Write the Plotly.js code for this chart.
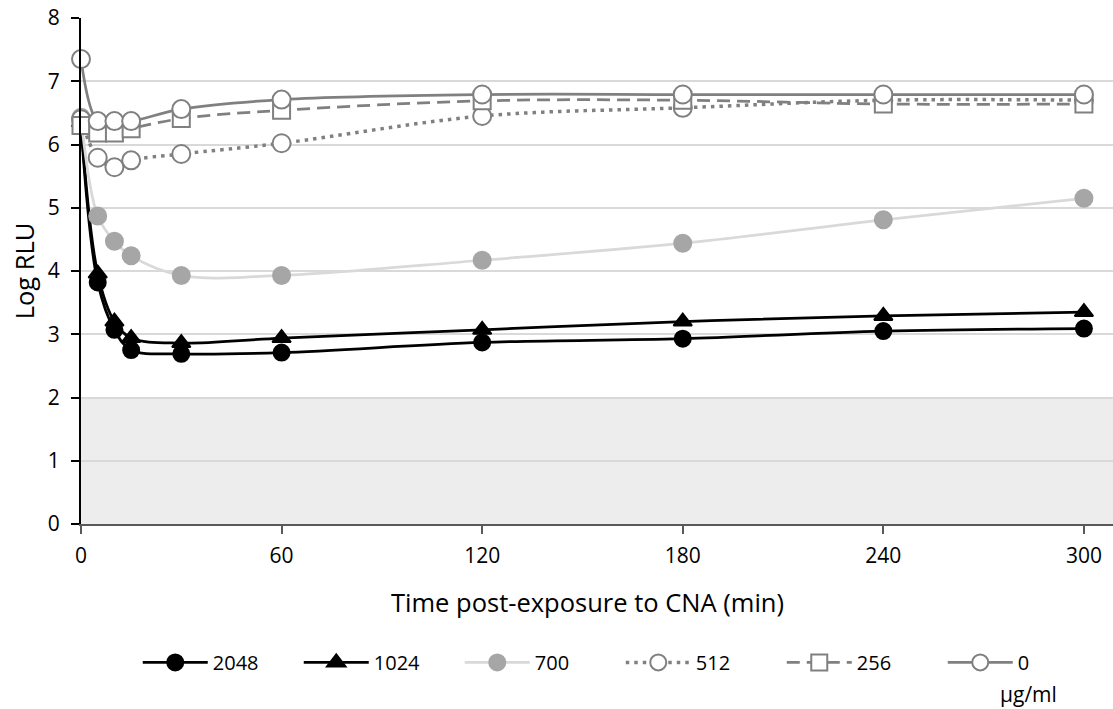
<!DOCTYPE html>
<html>
<head>
<meta charset="utf-8">
<script src="https://cdn.plot.ly/plotly-3.0.1.min.js"></script>
<style>html,body{margin:0;padding:0;background:#fff;}#chart{width:1113px;height:709px;}</style>
</head>
<body>
<div id="chart"></div>
<script>
const times = [0, 5, 10, 15, 30, 60, 120, 180, 240, 300];
const seriesNames = ["2048", "1024", "700", "512", "256", "0"];
const conc2048 = [6.3, 3.82, 3.07, 2.75, 2.69, 2.71, 2.87, 2.93, 3.05, 3.09];
const conc1024 = [6.35, 3.96, 3.2, 2.94, 2.86, 2.94, 3.07, 3.2, 3.29, 3.35];
const conc700  = [6.43, 4.87, 4.47, 4.24, 3.93, 3.93, 4.17, 4.44, 4.81, 5.15];
const conc512  = [6.4, 5.79, 5.64, 5.75, 5.85, 6.02, 6.45, 6.58, 6.7, 6.7];
const conc256  = [6.3, 6.18, 6.18, 6.25, 6.41, 6.54, 6.69, 6.7, 6.64, 6.64];
const conc0    = [7.35, 6.37, 6.37, 6.37, 6.56, 6.71, 6.79, 6.79, 6.79, 6.79];
const xTicks = [0, 60, 120, 180, 240, 300];
const yTicks = [0, 1, 2, 3, 4, 5, 6, 7, 8];
const unitLabel = "μg/ml";

const FONT = "'Open Sans', sans-serif";
const grey = "#808080";

function mk(name, y, lineColor, dash, symbol, mColor, mFill, size, lw) {
  return {
    x: times, y: y, name: name, type: "scatter", mode: "lines+markers",
    line: {color: lineColor, width: lw || 2.75, dash: dash, shape: "spline", smoothing: 1},
    marker: {symbol: symbol, size: size, color: mFill, line: {color: mColor, width: 2}},
    cliponaxis: false
  };
}

const data = [
  mk(seriesNames[0], conc2048, "#000000", "solid", "circle", "#000000", "#000000", 16),
  mk(seriesNames[1], conc1024, "#000000", "solid", "triangle-up", "#000000", "#000000", 16),
  mk(seriesNames[2], conc700, "#d9d9d9", "solid", "circle", "#a6a6a6", "#a6a6a6", 17),
  mk(seriesNames[3], conc512, grey, "3.5px,5px", "circle", grey, "#ffffff", 18, 3.5),
  mk(seriesNames[4], conc256, grey, "13px,7px", "square", grey, "#ffffff", 17),
  mk(seriesNames[5], conc0, grey, "solid", "circle", grey, "#ffffff", 18)
];

const layout = {
  width: 1113, height: 709, autosize: false,
  margin: {l: 81, r: 0, t: 18, b: 185},
  paper_bgcolor: "#ffffff", plot_bgcolor: "#ffffff",
  font: {family: FONT, size: 20, color: "#000000"},
  showlegend: true,
  legend: {orientation: "h", x: 0.055, xanchor: "left", y: -0.235, yanchor: "top",
           font: {family: FONT, size: 20}, itemwidth: 65, entrywidth: 81, traceorder: "normal"},
  xaxis: {
    range: [0, 308.7], tickvals: xTicks, ticktext: xTicks.map(String),
    showgrid: false, zeroline: false, showline: true, linecolor: "#595959", linewidth: 2,
    ticks: "outside", ticklen: 8, tickwidth: 2, tickcolor: "#595959", ticklabelstandoff: 4,
    tickfont: {family: FONT, size: 21}, fixedrange: true
  },
  yaxis: {
    range: [0, 8], tickvals: yTicks, showgrid: true, gridcolor: "#d9d9d9", gridwidth: 2,
    zeroline: false, showline: true, linecolor: "#000000", linewidth: 2,
    ticks: "outside", ticklen: 8, tickwidth: 2, tickcolor: "#000000", ticklabelstandoff: 7,
    tickfont: {family: FONT, size: 21},
    title: {text: "Log RLU", font: {family: FONT, size: 25.5}, standoff: 6}, fixedrange: true
  },
  shapes: [
    {type: "rect", xref: "paper", yref: "y", x0: 0, x1: 1, y0: 0, y1: 2,
     fillcolor: "#ededed", line: {width: 0}, layer: "below"}
  ],
  annotations: [
    {text: "Time post-exposure to CNA (min)", xref: "paper", yref: "paper",
     x: (587 - 81) / (1113 - 81), y: -0.155, xanchor: "center", yanchor: "middle",
     showarrow: false, font: {family: FONT, size: 25.5}},
    {text: unitLabel, xref: "paper", yref: "paper", x: (1028 - 81) / (1113 - 81), y: -0.335,
     xanchor: "center", yanchor: "middle", showarrow: false, font: {family: FONT, size: 21}}
  ]
};

Plotly.newPlot("chart", data, layout, {displayModeBar: false, staticPlot: true});
</script>
</body>
</html>
